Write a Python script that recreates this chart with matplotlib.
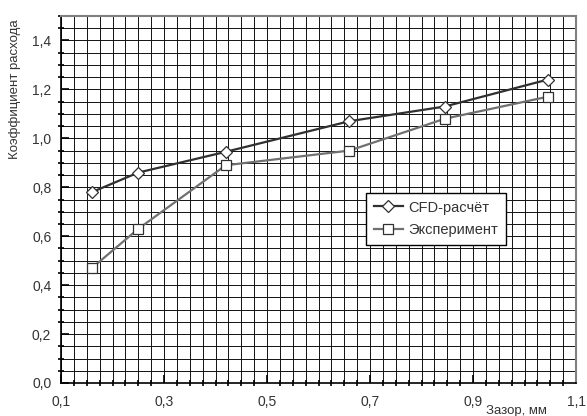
import matplotlib
matplotlib.use("Agg")
import matplotlib.pyplot as plt
from matplotlib.ticker import MultipleLocator, FixedLocator, FuncFormatter

plt.rcParams['font.family'] = ['Liberation Sans', 'DejaVu Sans']

gap = [0.16, 0.25, 0.42, 0.66, 0.845, 1.045]
cfd = [0.78, 0.86, 0.945, 1.07, 1.13, 1.24]
exp = [0.47, 0.63, 0.89, 0.95, 1.08, 1.17]
series_names = ["CFD-расчёт", "Эксперимент"]
xticks = [0.1, 0.3, 0.5, 0.7, 0.9, 1.1]
xlabel = "Зазор, мм"
ylabel = "Коэффициент расхода"

fig = plt.figure(figsize=(5.87, 4.16), dpi=100)
ax = fig.add_axes([61/587, 33/416, 515/587, 367/416])

ax.set_xlim(0.1, 1.1)
ax.set_ylim(0.0, 1.5)
ax.xaxis.set_major_locator(FixedLocator(xticks))
ax.xaxis.set_minor_locator(MultipleLocator(0.025))
ax.yaxis.set_major_locator(MultipleLocator(0.2))
ax.yaxis.set_minor_locator(MultipleLocator(0.05))
fmt = FuncFormatter(lambda v, p: f"{v:.1f}".replace('.', ','))
ax.xaxis.set_major_formatter(fmt)
ax.yaxis.set_major_formatter(fmt)

ax.grid(True, which='both', color='#111111', lw=0.7)
ax.set_axisbelow(True)

ax.plot(gap, cfd, color='#303030', lw=1.6, marker='D', ms=6.5,
        mfc='white', mec='#303030', mew=0.9, label=series_names[0], zorder=3)
ax.plot(gap, exp, color='#707070', lw=1.6, marker='s', ms=7,
        mfc='white', mec='#303030', mew=0.9, label=series_names[1], zorder=3)

for s in ['left', 'bottom']:
    ax.spines[s].set_color('black')
    ax.spines[s].set_linewidth(1.2)
for s in ['top', 'right']:
    ax.spines[s].set_color('#808080')
    ax.spines[s].set_linewidth(1.5)

ax.tick_params(which='major', direction='in', length=6, width=1.2,
               labelsize=10, labelcolor='#333333', pad=9)
ax.tick_params(which='minor', direction='inout', length=5, width=1.2)
ax.tick_params(axis='y', which='major', pad=7)

ax.text(-0.089, 0.80, ylabel, transform=ax.transAxes, rotation=90,
        ha='center', va='center', fontsize=9.5, color='#333333')
ax.text(0.885, -0.075, xlabel, transform=ax.transAxes,
        ha='center', va='center', fontsize=9.5, color='#333333')

leg = ax.legend(loc='upper left', bbox_to_anchor=(298/515, (383-186)/367),
                fancybox=False, framealpha=1, edgecolor='black',
                fontsize=10.5, handlelength=2.0, borderpad=0.5,
                labelspacing=0.6, handletextpad=0.4)
leg.get_frame().set_linewidth(1.0)
for t in leg.get_texts():
    t.set_color('#333333')

fig.savefig("out.png", dpi=100)
